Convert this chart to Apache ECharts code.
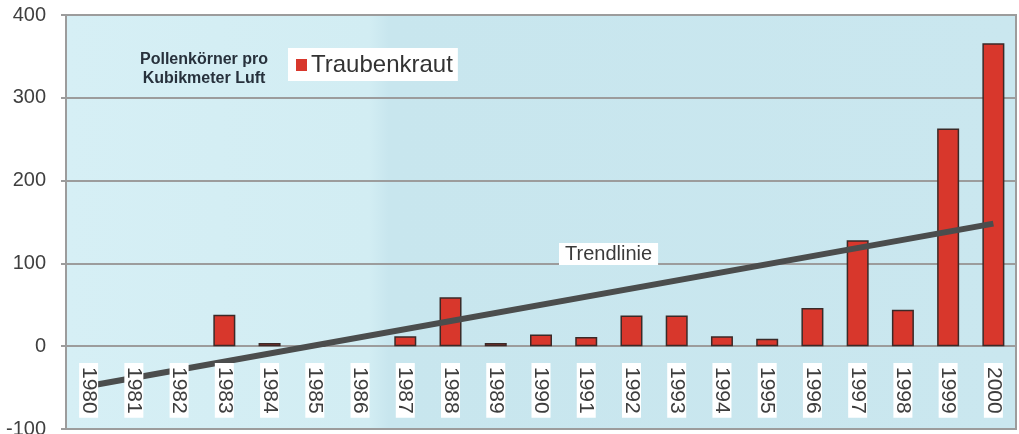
<!DOCTYPE html>
<html>
<head>
<meta charset="utf-8">
<title>Traubenkraut</title>
<script src="https://cdn.jsdelivr.net/npm/echarts@6/dist/echarts.min.js"></script>
<style>
  html, body { margin: 0; padding: 0; background: #fff; }
  #chart { width: 1019px; height: 434px; }
</style>
</head>
<body>
<div id="chart"></div>
<script>
// Jahre (Kategorien)
var years = ['1980','1981','1982','1983','1984','1985','1986','1987','1988','1989','1990',
             '1991','1992','1993','1994','1995','1996','1997','1998','1999','2000'];
// Pollenkörner pro Kubikmeter Luft (null = kein Balken)
var traubenkraut = [null, null, null, 38, 4, 1, null, 12, 59, 4, 14,
                    11, 37, 37, 12, 9, 46, 128, 44, 263, 366];
// Trendlinie: Anfangs- und Endpunkt
var trendYears = ['1980', '2000'];
var trendValues = [-48, 148];
// y-Achse
var yMin = -100, yMax = 400, yStep = 100;

var trendData = [];
for (var i = 0; i < trendYears.length; i++) {
    trendData.push([trendYears[i], trendValues[i]]);
}

var chart = echarts.init(document.getElementById('chart'), null, { renderer: 'canvas' });

var option = {
    animation: false,
    textStyle: { fontFamily: 'Liberation Sans, Arial, sans-serif' },
    title: [
        {
            text: 'Pollenkörner pro\nKubikmeter Luft',
            left: 199,
            top: 45,
            textAlign: 'center',
            textStyle: { fontSize: 16, fontWeight: 'bold', color: '#27313c', lineHeight: 19, align: 'center' }
        },
        {
            text: 'Trendlinie',
            left: 559,
            top: 243,
            backgroundColor: '#ffffff',
            padding: [1, 6, 1, 6],
            textStyle: { fontSize: 20, fontWeight: 'normal', color: '#3a3a3a' }
        }
    ],
    legend: {
        left: 288,
        top: 48,
        padding: [5, 5, 4, 8],
        backgroundColor: '#ffffff',
        itemWidth: 11,
        itemHeight: 12,
        itemGap: 0,
        icon: 'rect',
        data: [{ name: 'Traubenkraut', itemStyle: { borderWidth: 0, color: '#d8372c' } }],
        textStyle: { fontSize: 24, color: '#333', padding: [0, 0, 0, -1] }
    },
    grid: {
        left: 66,
        right: 3,
        top: 15,
        bottom: 5,
        containLabel: false,
        outerBoundsMode: 'none',
        show: true,
        borderColor: '#9c9c9c',
        borderWidth: 2,
        backgroundColor: {
            type: 'linear', x: 0, y: 0, x2: 1, y2: 0,
            colorStops: [
                { offset: 0, color: '#d6eff5' },
                { offset: 0.32, color: '#d2edf3' },
                { offset: 0.34, color: '#c8e6ee' },
                { offset: 1, color: '#cae7ef' }
            ]
        }
    },
    xAxis: {
        type: 'category',
        data: years,
        z: 5,
        // Beschriftung liegt knapp unter der Nulllinie, innerhalb der Fläche
        offset: -83,
        axisLine: { show: false, onZero: false },
        axisTick: { show: false },
        axisLabel: {
            rotate: -90,
            margin: 17,
            fontSize: 21,
            lineHeight: 19,
            hideOverlap: false,
            color: '#3d3d3d',
            backgroundColor: '#ffffff',
            padding: [0, 4, 0, 4]
        }
    },
    yAxis: {
        type: 'value',
        min: yMin,
        max: yMax,
        interval: yStep,
        axisLine: { show: false },
        axisTick: { show: true, length: 5, lineStyle: { color: '#9c9c9c', width: 2 } },
        axisLabel: { fontSize: 20, color: '#3f3f3f', margin: 20 },
        splitLine: { show: true, lineStyle: { color: '#9c9c9c', width: 2 } }
    },
    series: [
        {
            name: 'Traubenkraut',
            type: 'bar',
            data: traubenkraut,
            barWidth: 22,
            z: 2,
            itemStyle: { color: '#d8372c', borderColor: '#3a2a28', borderWidth: 1.5 }
        },
        {
            name: 'Trendlinie',
            type: 'line',
            data: trendData,
            z: 3,
            symbol: 'none',
            lineStyle: { color: '#4b4d4d', width: 6 }
        }
    ]
};

chart.setOption(option);
</script>
</body>
</html>
